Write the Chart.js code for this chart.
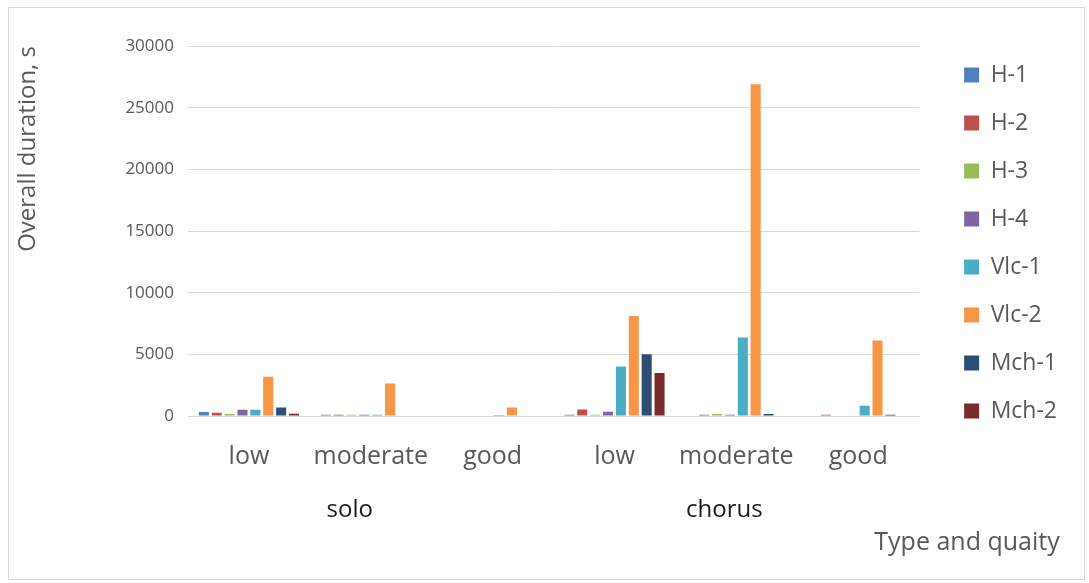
<!DOCTYPE html>
<html>
<head>
<meta charset="utf-8">
<script src="https://cdn.jsdelivr.net/npm/chart.js@4"></script>
<style>
  body { margin: 0; background: #fff; }
  #wrap { width: 1089px; height: 583px; position: relative; }
</style>
</head>
<body>
<div id="wrap"><canvas id="chart"></canvas></div>
<script>
// categories (two levels)
const qualities = ['low', 'moderate', 'good', 'low', 'moderate', 'good'];
const groups = ['solo', 'chorus'];
const seriesNames = ['H-1', 'H-2', 'H-3', 'H-4', 'Vlc-1', 'Vlc-2', 'Mch-1', 'Mch-2'];
const seriesColors = ['#4F81BD', '#C0504D', '#9BBB59', '#8064A2', '#4BACC6', '#F79646', '#2C4D75', '#772C2A'];

// values, seconds
const h1 = [330, 100, 0, 110, 0, 0];
const h2 = [270, 100, 0, 520, 110, 110];
const h3 = [160, 100, 0, 100, 160, 0];
const h4 = [510, 100, 0, 350, 100, 0];
const vlc1 = [510, 100, 90, 4020, 6370, 840];
const vlc2 = [3190, 2640, 680, 8100, 26900, 6130];
const mch1 = [680, 0, 0, 5000, 160, 110];
const mch2 = [190, 0, 0, 3490, 0, 0];
const allValues = [h1, h2, h3, h4, vlc1, vlc2, mch1, mch2];

const yTicks = [0, 5000, 10000, 15000, 20000, 25000, 30000];

const FONT = '"Open Sans", sans-serif';
const GREY = '#595959';

const extras = {
    id: 'extras',
    beforeDraw(chart) {
        const c = chart.ctx;
        c.save();
        c.fillStyle = '#fff';
        c.fillRect(0, 0, chart.width, chart.height);
        c.strokeStyle = '#d9d9d9';
        c.lineWidth = 1;
        c.strokeRect(8.5, 7.5, 1076, 572);
        c.restore();
    },
    afterLayout(chart) {
        // nudge legend to where Excel put it
        chart.legend.left += 20;
        chart.legend.right += 20;
        chart.legend.top -= 18;
        chart.legend.bottom -= 18;
    },
    afterDraw(chart) {
        const c = chart.ctx;
        const x = chart.scales.x;
        const shift = [-21, -12];
        c.save();
        c.textAlign = 'center';
        c.textBaseline = 'middle';
        c.font = '24px ' + FONT;
        c.fillStyle = '#1a1a1a';
        groups.forEach((g, i) => {
            const mid = (x.getPixelForValue(i * 3) + x.getPixelForValue(i * 3 + 2)) / 2;
            c.fillText(g, mid + shift[i], 510);
        });
        c.font = '25px ' + FONT;
        c.fillStyle = GREY;
        c.fillText('Type and quaity', 967, 543);
        c.restore();
    }
};

new Chart(document.getElementById('chart'), {
    type: 'bar',
    data: {
        labels: qualities,
        datasets: seriesNames.map((name, i) => ({
            label: name,
            data: allValues[i],
            backgroundColor: seriesColors[i],
            borderWidth: 0,
            categoryPercentage: 0.845,
            barPercentage: 0.78
        }))
    },
    plugins: [extras],
    options: {
        responsive: true,
        maintainAspectRatio: false,
        animation: false,
        layout: { padding: { left: 10, top: 46, right: 42, bottom: 107 } },
        plugins: {
            legend: {
                position: 'right',
                labels: {
                    boxWidth: 15,
                    boxHeight: 15,
                    padding: 25,
                    color: GREY,
                    font: { family: FONT, size: 23 }
                }
            },
            tooltip: { enabled: false }
        },
        scales: {
            x: {
                grid: { display: false, drawTicks: false },
                border: { color: '#d9d9d9' },
                ticks: { color: GREY, font: { family: FONT, size: 25 }, padding: 26, maxRotation: 0 },
                afterFit(scale) { scale.height = 60; }
            },
            y: {
                min: 0,
                max: 30000,
                afterBuildTicks(scale) { scale.ticks = yTicks.map(v => ({ value: v })); },
                grid: { color: '#d9d9d9', drawTicks: false },
                border: { display: false },
                ticks: {
                    color: GREY,
                    font: { family: FONT, size: 17 },
                    padding: 14,
                    callback: v => String(v)
                },
                title: {
                    display: true,
                    text: 'Overall duration, s',
                    align: 'end',
                    color: GREY,
                    font: { family: FONT, size: 24 }
                },
                afterFit(scale) { scale.width = 178; }
            }
        }
    }
});
</script>
</body>
</html>
